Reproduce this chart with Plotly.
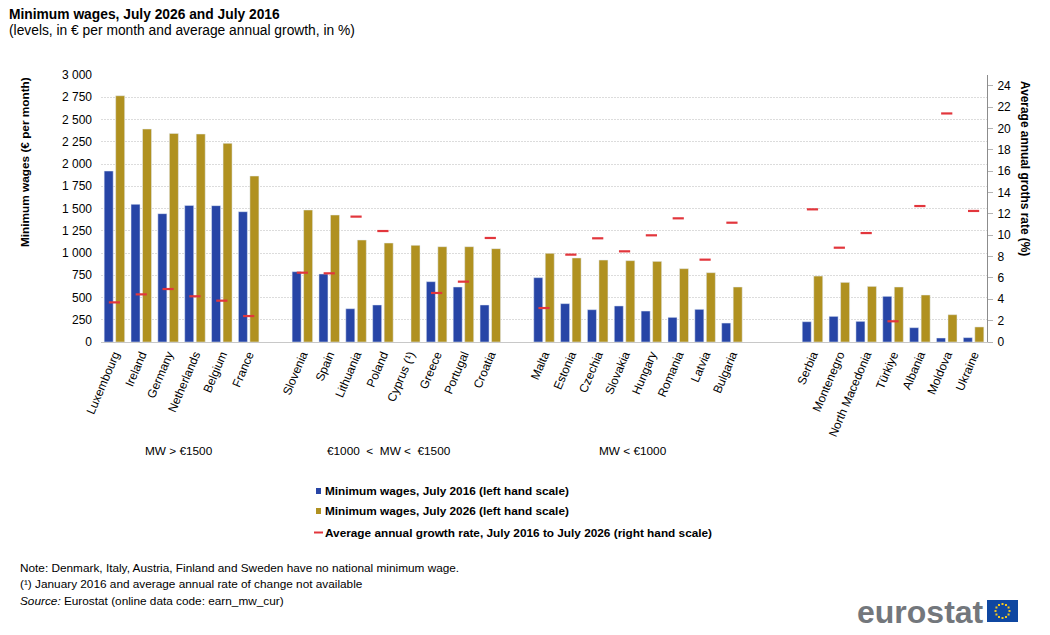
import math
import plotly.graph_objects as go

countries = ["Luxembourg","Ireland","Germany","Netherlands","Belgium","France"," ",
             "Slovenia","Spain","Lithuania","Poland","Cyprus (¹)","Greece","Portugal","Croatia","  ",
             "Malta","Estonia","Czechia","Slovakia","Hungary","Romania","Latvia","Bulgaria","   ","    ",
             "Serbia","Montenegro","North Macedonia","Türkiye","Albania","Moldova","Ukraine"]
mw_2016 = [1921,1547,1442,1535,1532,1464,None,
           790,764,374,416,None,678,618,416,None,
           723,431,363,405,348,277,367,213,None,None,
           228,288,232,513,161,45,49]
mw_2026 = [2767,2393,2344,2337,2232,1865,None,
           1483,1427,1146,1112,1086,1071,1071,1049,None,
           996,944,921,914,906,824,779,618,None,None,
           741,670,625,618,528,307,169]
growth = [3.71,4.46,4.96,4.28,3.87,2.43,None,
          6.49,6.43,11.74,10.39,None,4.59,5.65,9.74,None,
          3.18,8.18,9.71,8.49,9.99,11.58,7.71,11.17,None,None,
          12.42,8.83,10.2,1.94,12.73,21.4,12.27]
name_2016 = "Minimum wages, July 2016 (left hand scale)"
name_2026 = "Minimum wages, July 2026 (left hand scale)"
name_growth = "Average annual growth rate, July 2016 to July 2026 (right hand scale)"
groups = ["MW > €1500","€1000\u00a0 <\u00a0 MW <\u00a0 €1500","MW < €1000"]

BLUE="#2745a6"; GOLD="#b09120"; RED="#e2363c"; FONT="Liberation Sans, Arial, sans-serif"; W,H=1050,635
L,R,T,B=101,987,75,342
def px(x): return (x-L)/(R-L)
def py(y): return (B-y)/(B-T)

fig=go.Figure()
fig.add_bar(x=countries,y=mw_2016,name=name_2016,marker_color=BLUE,yaxis="y",showlegend=False)
fig.add_bar(x=countries,y=mw_2026,name=name_2026,marker_color=GOLD,yaxis="y",showlegend=False)
fig.add_scatter(x=countries,y=growth,name=name_growth,mode="markers",yaxis="y2",showlegend=False,
                marker=dict(symbol="line-ew",size=8,line=dict(color=RED,width=2.2),color=RED))

def text(x,y,t,size=11.8,color="#000000",anchor="left",angle=0):
    fig.add_annotation(xref="paper",yref="paper",x=px(x),y=py(y),text=t,showarrow=False,xanchor=anchor,yanchor="middle",
                       font=dict(size=size,color=color,family=FONT),align="left",borderpad=0,textangle=angle)
def rect(x0,x1,y0,y1,c):
    fig.add_shape(type="rect",xref="paper",yref="paper",x0=px(x0),x1=px(x1),y0=py(y0),y1=py(y1),fillcolor=c,line_width=0)

text(8,15,"<b>Minimum wages, July 2026 and July 2016</b>",13.8)
text(8,30,"(levels, in € per month and average annual growth, in %)",13.8)
text(25,162,"<b>Minimum wages (€ per month)</b>",11.8,anchor="center",angle=-90)
text(1025,168,"<b>Average annual groths rate (%)</b>",11.9,anchor="center",angle=90)
text(179,451,groups[0],anchor="center")
text(389,451,groups[1],anchor="center")
text(633,451,groups[2],anchor="center")
for y,t,c in [(491,name_2016,BLUE),(511,name_2026,GOLD)]:
    text(324,y,"<b>"+t+"</b>")
    rect(316,321,y-3,y+3,c)
text(324,532.5,"<b>"+name_growth+"</b>")
fig.add_shape(type="line",xref="paper",yref="paper",x0=px(314),x1=px(323),y0=py(532.5),y1=py(532.5),line=dict(color=RED,width=2))
text(19,568,"Note: Denmark, Italy, Austria, Finland and Sweden have no national minimum wage.")
text(19,584,"(¹) January 2016 and average annual rate of change not available")
text(19,601,"<i>Source:</i> Eurostat (online data code: earn_mw_cur)")
text(985,612,"<b>eurostat</b>",32,"#73777c","right")
rect(987,1018,600,622,"#0f47a1")
for k in range(12):
    a=k*math.pi/6; cx=1002.5+7*math.cos(a); cy=611+7*math.sin(a)
    rect(cx-1,cx+1,cy-1,cy+1,"#f2c61f")

fig.update_layout(width=W,height=H,autosize=False,margin=dict(l=L,r=W-R,t=T,b=H-B),
    paper_bgcolor="white",plot_bgcolor="white",barmode="group",bargap=0.143,bargroupgap=0.217,separators=". ",
    font=dict(family=FONT,size=12,color="#000000"),
    xaxis=dict(type="category",categoryorder="array",categoryarray=countries,range=[-0.5,32.5],tickangle=-67,tickfont=dict(size=12),
               showgrid=False,showline=True,linecolor="#c8c8c8",ticks="",automargin=False),
    yaxis=dict(range=[0,3000],dtick=250,tickformat=",d",gridcolor="#dcdcdc",gridwidth=1,griddash="2px,1px",zeroline=False,
               showline=False,ticks="",ticklabelstandoff=8,automargin=False),
    yaxis2=dict(range=[0,25],dtick=2,overlaying="y",side="right",showgrid=False,zeroline=False,showline=True,linecolor="#8c8c8c",
                ticks="outside",ticklen=5,tickcolor="#b4b4b4",ticklabelstandoff=2,automargin=False),
)
fig.write_html("out.html",config={"displayModeBar":False},post_script="document.body.style.margin='0';")
